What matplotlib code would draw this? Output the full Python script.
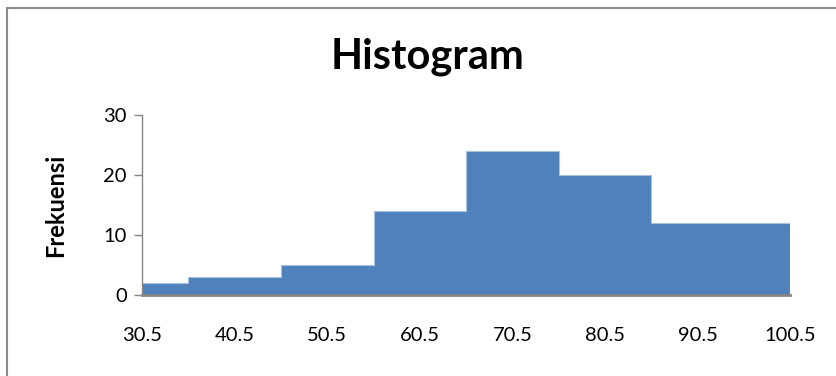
import matplotlib
matplotlib.use("Agg")
import matplotlib.pyplot as plt
from matplotlib.patches import Rectangle

plt.rcParams['font.family'] = ['Lato', 'DejaVu Sans']

edges = [30.5, 35.5, 45.5, 55.5, 65.5, 75.5, 85.5, 100.5]
freq = [2, 3, 5, 14, 24, 20, 12]
tick_vals = [30.5, 40.5, 50.5, 60.5, 70.5, 80.5, 90.5, 100.5]
tick_labels = ["30.5", "40.5", "50.5", "60.5", "70.5", "80.5", "90.5", "100.5"]
yticks = [0, 10, 20, 30]

fig = plt.figure(figsize=(8.36, 3.76), dpi=100)
ax = fig.add_axes([0.170, 0.2154, 0.775, 0.4787])

ax.stairs(freq, edges, fill=True, color='#4F81BD', edgecolor='#A9C0DE', linewidth=0.8, zorder=2)
ax.set_xlim(edges[0], edges[-1])
ax.set_ylim(0, 30)
ax.set_xticks(tick_vals)
ax.set_xticklabels(tick_labels)
ax.set_yticks(yticks)
for s in ['top', 'right']:
    ax.spines[s].set_visible(False)
ax.spines['left'].set_color('#868686')
ax.spines['left'].set_linewidth(1.0)
ax.spines['bottom'].set_color('#868686')
ax.spines['bottom'].set_linewidth(2.0)
ax.spines['bottom'].set_zorder(3)
ax.tick_params(axis='x', length=0, pad=23, labelsize=14.5)
ax.tick_params(axis='y', length=6, width=1, color='#868686', pad=5, labelsize=14.5)
ax.set_ylabel("Frekuensi", fontsize=17, fontweight='bold', labelpad=26)

fig.text(0.512, 0.848, "Histogram", ha='center', va='center', fontsize=30, fontweight='bold')

fig.patches.append(Rectangle((7/836, -0.1), 1.2, 1 - 8/376 + 0.1, transform=fig.transFigure,
                             fill=False, edgecolor='#8C8C8C', linewidth=1.5))

fig.savefig("out.png", dpi=100)
